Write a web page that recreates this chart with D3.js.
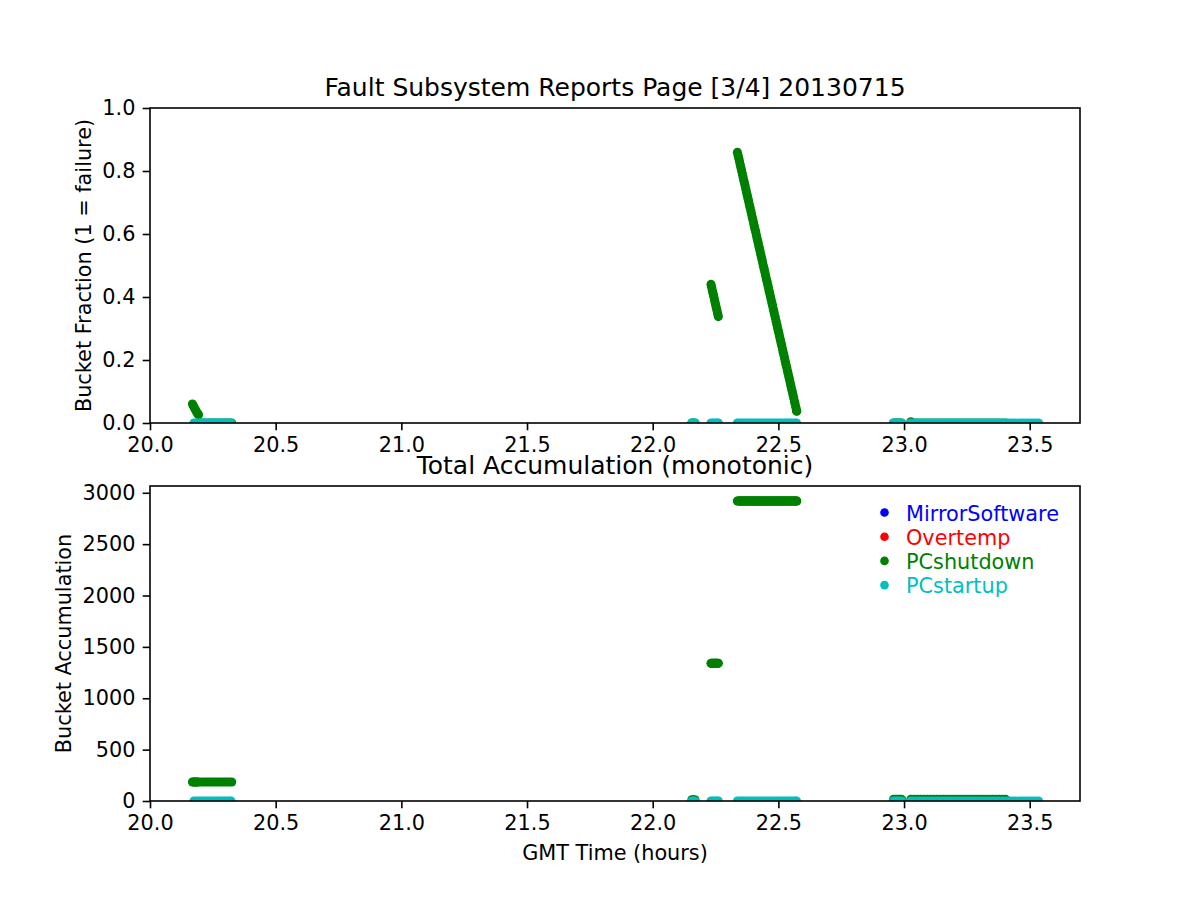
<!DOCTYPE html>
<html><head><meta charset="utf-8">
<script src="https://cdn.jsdelivr.net/npm/d3@7"></script>
<style>body{margin:0;background:#fff} svg{display:block} text{font-family:"DejaVu Sans",sans-serif}</style>
</head><body><svg id="chart" width="1200" height="900"></svg>
<script>
// ---------------- data ----------------
const seriesNames = ["MirrorSoftware", "Overtemp", "PCshutdown", "PCstartup"];
const seriesColors = ["#0000ff", "#ff0000", "#008000", "#00bfbf"];

const xTicks = [20.0, 20.5, 21.0, 21.5, 22.0, 22.5, 23.0, 23.5];
const fractionTicks = [0.0, 0.2, 0.4, 0.6, 0.8, 1.0];
const accumTicks = [0, 500, 1000, 1500, 2000, 2500, 3000];

// PCshutdown samples (GMT hours)
const shutdownTimes = [
  20.169, 20.173, 20.177, 20.181, 20.185, 20.189, 20.193, 20.205, 20.215, 20.225, 20.235, 20.245, 20.255, 20.265, 20.275, 20.285, 20.295, 20.305, 20.315, 20.325,
  22.156, 22.162, 22.168,
  22.2320, 22.2346, 22.2373, 22.2399, 22.2426, 22.2452, 22.2478, 22.2505, 22.2531, 22.2558, 22.2584, 22.2610,
  22.3370, 22.3398, 22.3426, 22.3454, 22.3482, 22.3510, 22.3538, 22.3566, 22.3594, 22.3622,
  22.3650, 22.3678, 22.3706, 22.3734, 22.3762, 22.3790, 22.3818, 22.3846, 22.3874, 22.3902,
  22.3930, 22.3958, 22.3986, 22.4014, 22.4042, 22.4070, 22.4098, 22.4126, 22.4154, 22.4182,
  22.4210, 22.4238, 22.4266, 22.4294, 22.4322, 22.4350, 22.4378, 22.4406, 22.4434, 22.4462,
  22.4490, 22.4518, 22.4546, 22.4574, 22.4602, 22.4630, 22.4658, 22.4686, 22.4714, 22.4742,
  22.4770, 22.4798, 22.4826, 22.4854, 22.4882, 22.4910, 22.4938, 22.4966, 22.4994, 22.5022,
  22.5050, 22.5078, 22.5106, 22.5134, 22.5162, 22.5190, 22.5218, 22.5246, 22.5274, 22.5302,
  22.5330, 22.5358, 22.5386, 22.5414, 22.5442, 22.5470, 22.5498, 22.5526, 22.5554, 22.5582,
  22.5610, 22.5638, 22.5666, 22.5694, 22.5722, 22.5730,
  22.958, 22.966, 22.974, 22.982, 22.990,
  23.027, 23.040, 23.053, 23.066, 23.079, 23.092, 23.105, 23.118, 23.131, 23.144, 23.157, 23.170, 23.183, 23.196, 23.209, 23.222, 23.235, 23.248, 23.261, 23.274, 23.287, 23.300, 23.313, 23.326, 23.339, 23.352, 23.365, 23.378, 23.391, 23.404
];
const shutdownFraction = [
  0.060, 0.054, 0.048, 0.042, 0.036, 0.030, 0.026, 0, 0, 0, 0, 0, 0, 0, 0, 0, 0, 0, 0, 0,
  0, 0, 0,
  0.440, 0.431, 0.421, 0.412, 0.403, 0.394, 0.384, 0.375, 0.366, 0.357, 0.347, 0.338,
  0.859, 0.849, 0.840, 0.830, 0.820, 0.810, 0.801, 0.791, 0.781, 0.771,
  0.762, 0.752, 0.742, 0.732, 0.723, 0.713, 0.703, 0.693, 0.684, 0.674,
  0.664, 0.654, 0.645, 0.635, 0.625, 0.615, 0.606, 0.596, 0.586, 0.576,
  0.567, 0.557, 0.547, 0.537, 0.528, 0.518, 0.508, 0.498, 0.489, 0.479,
  0.469, 0.459, 0.450, 0.440, 0.430, 0.420, 0.411, 0.401, 0.391, 0.381,
  0.372, 0.362, 0.352, 0.342, 0.333, 0.323, 0.313, 0.303, 0.294, 0.284,
  0.274, 0.264, 0.255, 0.245, 0.235, 0.225, 0.216, 0.206, 0.196, 0.186,
  0.177, 0.167, 0.157, 0.147, 0.138, 0.128, 0.118, 0.108, 0.099, 0.089,
  0.079, 0.069, 0.060, 0.050, 0.040, 0.037,
  0, 0, 0, 0, 0,
  0.004, 0, 0, 0, 0, 0, 0, 0, 0, 0, 0, 0, 0, 0, 0, 0, 0, 0, 0, 0, 0, 0, 0, 0, 0, 0, 0, 0, 0, 0
];
const shutdownAccum = [
  185, 185, 185, 185, 185, 185, 185, 185, 185, 185, 185, 185, 185, 185, 185, 185, 185, 185, 185, 185,
  12, 12, 12,
  1340, 1340, 1340, 1340, 1340, 1340, 1340, 1340, 1340, 1340, 1340, 1340,
  2920, 2920, 2920, 2920, 2920, 2920, 2920, 2920, 2920, 2920,
  2920, 2920, 2920, 2920, 2920, 2920, 2920, 2920, 2920, 2920,
  2920, 2920, 2920, 2920, 2920, 2920, 2920, 2920, 2920, 2920,
  2920, 2920, 2920, 2920, 2920, 2920, 2920, 2920, 2920, 2920,
  2920, 2920, 2920, 2920, 2920, 2920, 2920, 2920, 2920, 2920,
  2920, 2920, 2920, 2920, 2920, 2920, 2920, 2920, 2920, 2920,
  2920, 2920, 2920, 2920, 2920, 2920, 2920, 2920, 2920, 2920,
  2920, 2920, 2920, 2920, 2920, 2920, 2920, 2920, 2920, 2920,
  2920, 2920, 2920, 2920, 2920, 2920,
  15, 15, 15, 15, 15,
  15, 15, 15, 15, 15, 15, 15, 15, 15, 15, 15, 15, 15, 15, 15, 15, 15, 15, 15, 15, 15, 15, 15, 15, 15, 15, 15, 15, 15, 15
];

// PCstartup / MirrorSoftware / Overtemp samples (all at zero)
const startupTimes = [
  20.175, 20.185, 20.195, 20.205, 20.215, 20.225, 20.235, 20.245, 20.255, 20.265, 20.275, 20.285, 20.295, 20.305, 20.315, 20.322,
  22.156, 22.162, 22.168,
  22.232, 22.240, 22.248, 22.256, 22.261,
  22.337, 22.347, 22.357, 22.367, 22.377, 22.387, 22.397, 22.407, 22.417, 22.427, 22.437, 22.447, 22.457, 22.467, 22.477, 22.487, 22.497, 22.507, 22.517, 22.527, 22.537, 22.547, 22.557, 22.567, 22.572,
  22.958, 22.966, 22.974, 22.982, 22.990,
  23.027, 23.040, 23.053, 23.066, 23.079, 23.092, 23.105, 23.118, 23.131, 23.144, 23.157, 23.170, 23.183, 23.196, 23.209, 23.222, 23.235, 23.248, 23.261, 23.274, 23.287, 23.300, 23.313, 23.326, 23.339, 23.352, 23.365, 23.378, 23.391, 23.404,
  23.418, 23.431, 23.444, 23.457, 23.470, 23.483, 23.496, 23.509, 23.522, 23.535
];
const startupValues = [
  0, 0, 0, 0, 0, 0, 0, 0, 0, 0, 0, 0, 0, 0, 0, 0,
  0, 0, 0,
  0, 0, 0, 0, 0,
  0, 0, 0, 0, 0, 0, 0, 0, 0, 0, 0, 0, 0, 0, 0, 0, 0, 0, 0, 0, 0, 0, 0, 0, 0,
  0, 0, 0, 0, 0,
  0, 0, 0, 0, 0, 0, 0, 0, 0, 0, 0, 0, 0, 0, 0, 0, 0, 0, 0, 0, 0, 0, 0, 0, 0, 0, 0, 0, 0, 0,
  0, 0, 0, 0, 0, 0, 0, 0, 0, 0
];

const xDomain = [20, 23.7];
const fractionDomain = [0, 1];
const accumDomain = [0, 3066];

// ---------------- drawing ----------------
const FS = 20.8;
const R = 4.6;
const svg = d3.select("#chart");
svg.append("rect").attr("width", 1200).attr("height", 900).attr("fill", "#fff");

const left = 150, right = 1080;
const x = d3.scaleLinear().domain(xDomain).range([left, right]);

function zip(t, v) { return t.map((d, i) => ({ t: d, v: v[i] })); }

const panels = [
  {
    top: 108, bottom: 423, domain: fractionDomain, ticks: fractionTicks, fmt: d3.format(".1f"),
    title: "Fault Subsystem Reports Page [3/4] 20130715", ylabel: "Bucket Fraction (1 = failure)", ylabelX: 90.5,
    data: [zip(startupTimes, startupValues), zip(startupTimes, startupValues), zip(shutdownTimes, shutdownFraction), zip(startupTimes, startupValues)]
  },
  {
    top: 486, bottom: 801, domain: accumDomain, ticks: accumTicks, fmt: d3.format("d"),
    title: "Total Accumulation (monotonic)", ylabel: "Bucket Accumulation", ylabelX: 71,
    data: [zip(startupTimes, startupValues), zip(startupTimes, startupValues), zip(shutdownTimes, shutdownAccum), zip(startupTimes, startupValues)]
  }
];

panels.forEach((p, pi) => {
  const y = d3.scaleLinear().domain(p.domain).range([p.bottom, p.top]);
  const clipId = "clip" + pi;
  svg.append("clipPath").attr("id", clipId).append("rect")
    .attr("x", left).attr("y", p.top).attr("width", right - left).attr("height", p.bottom - p.top);

  const g = svg.append("g").attr("clip-path", `url(#${clipId})`);
  p.data.forEach((pts, si) => {
    // series fully hidden under later ones are drawn slightly smaller so their
    // anti-aliased edges do not tint the covering markers
    const r = (si < 2) ? R - 1 : R;
    g.append("g").selectAll("circle").data(pts).join("circle")
      .attr("cx", d => x(d.t)).attr("cy", d => y(d.v)).attr("r", r)
      .attr("fill", seriesColors[si]);
  });

  // axes
  const xa = svg.append("g").attr("transform", `translate(0,${p.bottom})`)
    .call(d3.axisBottom(x).tickValues(xTicks).tickFormat(d3.format(".1f")).tickSizeInner(7.3).tickSizeOuter(0).tickPadding(7.3));
  const ya = svg.append("g").attr("transform", `translate(${left},0)`)
    .call(d3.axisLeft(y).tickValues(p.ticks).tickFormat(p.fmt).tickSizeInner(7.3).tickSizeOuter(0).tickPadding(7.3));
  [xa, ya].forEach(a => {
    a.select(".domain").remove();
    a.selectAll(".tick line").attr("stroke", "#000").attr("stroke-width", 1.6);
    a.selectAll(".tick text").attr("fill", "#000").style("font-size", FS + "px").style("font-family", "'DejaVu Sans'");
  });

  // frame
  svg.append("rect").attr("x", left).attr("y", p.top).attr("width", right - left).attr("height", p.bottom - p.top)
    .attr("fill", "none").attr("stroke", "#000").attr("stroke-width", 1.6);

  svg.append("text").attr("x", (left + right) / 2).attr("y", p.top - 12)
    .attr("text-anchor", "middle").style("font-size", "25px").text(p.title);

  svg.append("text").attr("transform", `translate(${p.ylabelX},${(p.top + p.bottom) / 2}) rotate(-90)`)
    .attr("text-anchor", "middle").style("font-size", FS + "px").text(p.ylabel);

  if (pi === 1) {
    svg.append("text").attr("x", (left + right) / 2).attr("y", 860)
      .attr("text-anchor", "middle").style("font-size", FS + "px").text("GMT Time (hours)");

    const lg = svg.append("g");
    seriesNames.forEach((n, i) => {
      const cy = 512.5 + i * 24.2;
      lg.append("circle").attr("cx", 884.5).attr("cy", cy).attr("r", 4.3).attr("fill", seriesColors[i]);
      lg.append("text").attr("x", 906).attr("y", cy + 8.3).attr("fill", seriesColors[i])
        .style("font-size", FS + "px").text(n);
    });
  }
});
</script>
</body></html>
